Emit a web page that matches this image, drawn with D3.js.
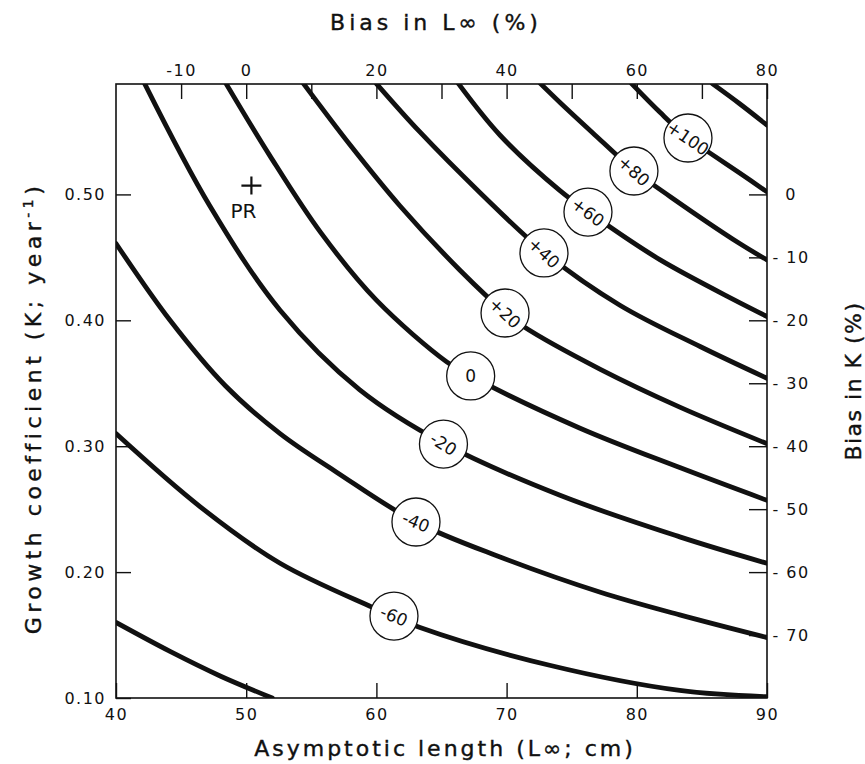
<!DOCTYPE html>
<html>
<head>
<meta charset="utf-8">
<script src="https://cdn.jsdelivr.net/npm/d3@7"></script>
<style>
  body { margin: 0; background: #fff; }
  svg text { font-family: "DejaVu Sans", sans-serif; fill: #111; }
</style>
</head>
<body>
<div id="chart"></div>
<script>
// ---- data ----
var xTicks = [40, 50, 60, 70, 80, 90]            // asymptotic length (cm)
var yTicks = [0.10, 0.20, 0.30, 0.40, 0.50]      // K (1/year)
var topTicks = [-10, 0, 10, 20, 30, 40, 50, 60, 70, 80]   // bias in Loo (%)
var topLabels = [-10, 0, 20, 40, 60, 80]
var rightTicks = [0, -10, -20, -30, -40, -50, -60, -70]  // bias in K (%)
var refL = 50, refK = 0.50       // reference values the biases are measured from
var prL = 50.4, prK = 0.507      // "PR" point

// isopleths, [Loo, K] pairs
var c_80 = [[40, 0.160], [44.15, 0.137], [48.0, 0.1175], [52.0, 0.100]]
var c_60 = [[40, 0.310], [46.45, 0.252], [52.6, 0.207], [59.7, 0.172], [63.35, 0.156], [73.3, 0.126], [83.3, 0.106], [90, 0.101]]
var c_40 = [[40, 0.461], [44.15, 0.400], [48.4, 0.348], [52.6, 0.310], [57.0, 0.279], [63.0, 0.240], [69.5, 0.212], [77.2, 0.184], [83.3, 0.166], [90, 0.148]]
var c_20 = [[42.2, 0.588], [47.2, 0.491], [52.6, 0.408], [58.7, 0.345], [65.2, 0.302], [74.1, 0.261], [83.3, 0.228], [90, 0.207]]
var c0 = [[48.45, 0.588], [51.8, 0.531], [55.7, 0.470], [60.0, 0.416], [65.4, 0.367], [67.2, 0.356], [75.6, 0.3145], [83.3, 0.283], [90, 0.257]]
var c20 = [[54.4, 0.588], [58.0, 0.539], [61.8, 0.491], [66.4, 0.440], [69.9, 0.406], [71.3, 0.395], [77.2, 0.361], [83.3, 0.331], [90, 0.302]]
var c40 = [[60.0, 0.588], [63.3, 0.550], [68.0, 0.501], [72.9, 0.454], [78.7, 0.412], [84.9, 0.379], [90, 0.354]]
var c60 = [[66.3, 0.588], [69.5, 0.547], [74.1, 0.503], [76.3, 0.486], [81.8, 0.448], [90, 0.403]]
var c80 = [[72.6, 0.588], [74.1, 0.573], [76.6, 0.549], [79.8, 0.519], [82.6, 0.498], [87.9, 0.461], [90, 0.448]]
var c100 = [[79.6, 0.588], [81.8, 0.565], [83.9, 0.545], [85.6, 0.533], [87.9, 0.517], [90, 0.502]]
var c120 = [[85.8, 0.588], [87.9, 0.572], [90, 0.555]]

// circled labels on the isopleths
var labelText = ["-60", "-40", "-20", "0", "+20", "+40", "+60", "+80", "+100"]
var labelL = [61.35, 63.04, 65.15, 67.24, 69.88, 72.87, 76.25, 79.78, 83.93]
var labelK = [0.1651, 0.2398, 0.3017, 0.3558, 0.4058, 0.4535, 0.486, 0.5186, 0.5448]

var curves = [c_80, c_60, c_40, c_20, c0, c20, c40, c60, c80, c100, c120]
var labelCurves = [c_60, c_40, c_20, c0, c20, c40, c60, c80, c100]

// ---- layout ----
var width = 865, height = 764
var plotL = 116, plotR = 767, plotT = 84, plotB = 698

var svg = d3.select("#chart").append("svg")
    .attr("width", width)
    .attr("height", height)

var x = d3.scaleLinear().domain([40, 90]).range([plotL, plotR])
var y = d3.scaleLinear().domain([0.10, 0.5877]).range([plotB, plotT])
// secondary scales: percent bias relative to the reference point
var xTop = d3.scaleLinear()
    .domain([(40 / refL - 1) * 100, (90 / refL - 1) * 100])
    .range([plotL, plotR])
var yRight = d3.scaleLinear()
    .domain([(0.10 / refK - 1) * 100, (0.5877 / refK - 1) * 100])
    .range([plotB, plotT])

svg.append("clipPath").attr("id", "plotclip")
  .append("rect")
    .attr("x", plotL).attr("y", plotT)
    .attr("width", plotR - plotL).attr("height", plotB - plotT)

// ---- curves ----
var line = d3.line()
    .x(function(d) { return x(d[0]) })
    .y(function(d) { return y(d[1]) })
    .curve(d3.curveCatmullRom.alpha(0.5))

svg.append("g")
    .attr("clip-path", "url(#plotclip)")
  .selectAll("path")
    .data(curves)
    .enter()
    .append("path")
    .attr("d", line)
    .attr("fill", "none")
    .attr("stroke", "#111")
    .attr("stroke-width", 4.8)
    .attr("stroke-linecap", "round")

// ---- axes (ticks point into the plot) ----
function styleAxis(g) {
  g.select(".domain").remove()
  g.selectAll(".tick line").attr("stroke", "#111").attr("stroke-width", 1.4)
  g.selectAll(".tick text")
    .style("font-size", "16px")
    .style("letter-spacing", "1.5px")
    .attr("fill", "#111")
}

svg.append("g")
    .attr("transform", "translate(0," + plotB + ")")
    .call(d3.axisBottom(x).tickValues(xTicks).tickSize(-15).tickPadding(11).tickFormat(d3.format("d")))
    .call(styleAxis)

svg.append("g")
    .attr("transform", "translate(" + plotL + ",0)")
    .call(d3.axisLeft(y).tickValues(yTicks).tickSize(-15).tickPadding(10).tickFormat(d3.format(".2f")))
    .call(styleAxis)

svg.append("g")
    .attr("transform", "translate(0," + plotT + ")")
    .call(d3.axisTop(xTop).tickValues(topTicks).tickSize(-15).tickPadding(8)
      .tickFormat(function(d) { return topLabels.indexOf(d) >= 0 ? String(d) : "" }))
    .call(styleAxis)

var rAxis = svg.append("g")
    .attr("transform", "translate(" + plotR + ",0)")
    .call(d3.axisRight(yRight).tickValues(rightTicks).tickSize(-18)
      .tickFormat(function(d) { return d === 0 ? "0" : "- " + Math.abs(d) }))
    .call(styleAxis)
rAxis.selectAll(".tick text").attr("x", 24).attr("text-anchor", "middle")

// frame
svg.append("rect")
    .attr("x", plotL).attr("y", plotT)
    .attr("width", plotR - plotL).attr("height", plotB - plotT)
    .attr("fill", "none")
    .attr("stroke", "#111")
    .attr("stroke-width", 1.6)

// ---- circled labels ----
function tangentAngle(pts, L) {
  var i = 0
  while (i < pts.length - 2 && pts[i + 1][0] < L) i++
  var dx = x(pts[i + 1][0]) - x(pts[i][0])
  var dy = y(pts[i + 1][1]) - y(pts[i][1])
  return Math.atan2(dy, dx) * 180 / Math.PI
}

var labels = svg.selectAll("g.lab")
    .data(labelText)
    .enter()
    .append("g")
    .attr("class", "lab")
    .attr("transform", function(d, i) {
      return "translate(" + x(labelL[i]) + "," + y(labelK[i]) + ")"
    })

labels.append("circle")
    .attr("r", 24)
    .attr("fill", "#fff")
    .attr("stroke", "#111")
    .attr("stroke-width", 1.3)

labels.append("text")
    .attr("text-anchor", "middle")
    .attr("dy", "0.36em")
    .attr("transform", function(d, i) {
      return d === "0" ? null : "rotate(" + tangentAngle(labelCurves[i], labelL[i]) + ")"
    })
    .style("font-size", "17px")
    .text(function(d) { return d })

// ---- PR marker ----
var px = x(prL), py = y(prK)
svg.append("path")
    .attr("d", "M" + (px - 10) + "," + py + "H" + (px + 10) + "M" + px + "," + (py - 9) + "V" + (py + 9))
    .attr("stroke", "#111")
    .attr("stroke-width", 2.2)
svg.append("text")
    .attr("x", px - 8).attr("y", py + 32)
    .attr("text-anchor", "middle")
    .style("font-size", "20px")
    .text("PR")

// ---- titles ----
function titleStyle(t) {
  t.attr("text-anchor", "middle")
    .style("font-size", "22px")
    .attr("stroke", "#111")
    .attr("stroke-width", 0.4)
}

svg.append("text")
    .attr("x", 436).attr("y", 30)
    .call(titleStyle)
    .style("letter-spacing", "4px")
    .text("Bias in L\u221E (%)")

svg.append("text")
    .attr("x", 445).attr("y", 756)
    .call(titleStyle)
    .style("letter-spacing", "3px")
    .text("Asymptotic  length (L\u221E; cm)")

var yt = svg.append("text")
    .attr("transform", "translate(41,408) rotate(-90)")
    .call(titleStyle)
    .style("letter-spacing", "4.5px")
yt.append("tspan").text("Growth coefficient (K; year")
yt.append("tspan").attr("dy", -8).style("font-size", "14px").text("-1")
yt.append("tspan").attr("dy", 8).text(")")

svg.append("text")
    .attr("transform", "translate(861,381) rotate(-90)")
    .call(titleStyle)
    .style("letter-spacing", "1.5px")
    .text("Bias in K (%)")
</script>
</body>
</html>
